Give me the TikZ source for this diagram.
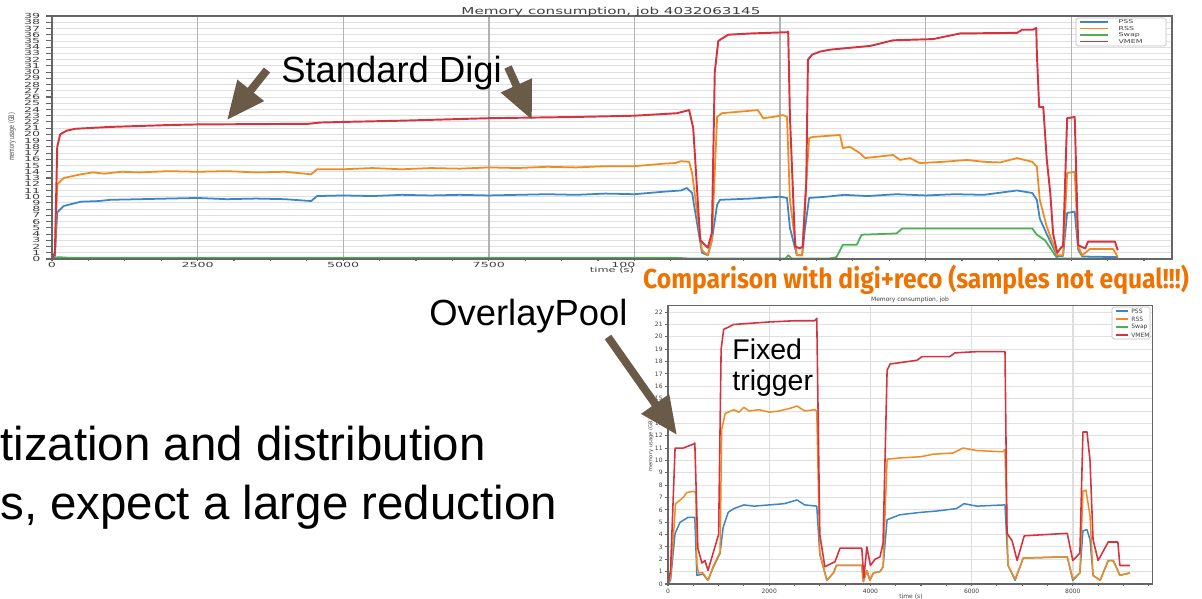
\documentclass[tikz,border=0pt]{standalone}
\usepackage{fontspec}
\setmainfont{Liberation Sans}
\newfontfamily\plotfont{DejaVu Sans}
\newfontfamily\notefont{Fira Sans}
\usetikzlibrary{arrows.meta}
\definecolor{pssblue}{HTML}{3A86C8}
\definecolor{rssorange}{HTML}{F28A1E}
\definecolor{swapgreen}{HTML}{4CAF50}
\definecolor{vmemred}{HTML}{D63340}
\definecolor{pointerbrown}{HTML}{695B47}
\definecolor{noteorange}{HTML}{EF7100}
\tikzset{
	pssline/.style={draw=pssblue, line width=1pt, line join=round},
	rssline/.style={draw=rssorange, line width=1pt, line join=round},
	swapline/.style={draw=swapgreen, line width=1pt, line join=round},
	vmemline/.style={draw=vmemred, line width=1.1pt, line join=round},
	hgrid/.style={draw=black!12, line width=0.5pt},
	vgrid/.style={draw=black!30, line width=0.8pt},
	lightvgrid/.style={draw=black!13, line width=0.8pt},
	axisframe/.style={draw=black!60, line width=0.6pt},
	legendbox/.style={draw=black!25, fill=white, line width=0.4pt, rounded corners=1pt},
	bigtick/.style={font=\plotfont\fontsize{4}{4}\selectfont, xscale=1.8, transform shape, inner sep=0pt, text=black!75},
	smalltick/.style={font=\plotfont\fontsize{3.4}{3.4}\selectfont, inner sep=0pt, text=black!75},
	pointer/.style={draw=pointerbrown, line width=4.5pt, -{Triangle[length=0.76cm, width=0.64cm]}},
	remark/.style={font=\fontsize{20.7}{24}\selectfont, inner sep=0pt},
	slidetext/.style={font=\fontsize{27}{32}\selectfont, inner sep=0pt},
	comparison/.style={font=\notefont\bfseries\fontsize{15.6}{18}\selectfont, text=noteorange, xscale=0.9, transform shape, inner sep=0pt}
}
\begin{document}
\begin{tikzpicture}[x=0.2mm, y=-0.2mm]
	\path[use as bounding box, fill=white] (0,0) rectangle (1202,598);

	\begin{scope}[shift={(52,259)}, x=1.1648cm, y=0.1246cm]
		\foreach \g in {1,...,38}
			\draw[hgrid] (0,\g) -- (19.23,\g);
		\foreach \t in {2.5,5,...,17.5}
			\draw[vgrid] (\t,0) -- (\t,39);
		\foreach \t in {0,0.625,...,19.2}
			\draw[axisframe] (\t,0) -- (\t,-0.35);
		\foreach \g in {0,...,39} {
			\draw[axisframe] (-0.1,\g) -- (0,\g);
			\node[bigtick, anchor=east] (yt\g) at (-0.19,\g) {\g};
		}
		\foreach \t/\lab in {0/0, 2.5/2500, 5/5000, 7.5/7500}
			\node[bigtick, anchor=north] (xt\lab) at (\t,-0.45) {\lab};
		\node[bigtick, anchor=north east] (xtcut) at (10.03,-0.45) {100};

		\draw[swapline] plot coordinates {(0,0) (0.1,0.3) (0.3,0.2) (10.7,0.2) (10.9,0.1) (12.6,0.1) (12.64,0.6) (12.7,0.1) (13.36,0.1) (13.47,0.3) (13.58,2.3) (13.82,2.3) (13.9,3.9) (14.5,4.1) (14.6,4.9) (16.83,4.9) (16.91,3.9) (17.05,3) (17.26,0.1) (18.3,0.1)};
		\draw[pssline] plot coordinates {(0,0) (0.05,0.5) (0.09,7.5) (0.2,8.5) (0.5,9.2) (0.8,9.3) (1,9.5) (1.5,9.6) (2,9.7) (2.5,9.8) (3,9.6) (3.5,9.7) (4,9.6) (4.45,9.3) (4.55,10.1) (5,10.2) (5.5,10.1) (6,10.3) (6.5,10.2) (7,10.3) (7.5,10.2) (8,10.3) (8.5,10.4) (9,10.3) (9.5,10.5) (10,10.4) (10.5,10.8) (10.8,11.0) (10.9,11.4) (10.99,10.6) (11.16,1) (11.26,0.6) (11.33,3) (11.42,8.7) (11.47,9.5) (12,9.7) (12.5,10) (12.62,9.8) (12.67,5) (12.79,0.6) (12.88,0.6) (12.93,5) (13.0,9.8) (13.3,10) (13.6,10.3) (14,10.1) (14.5,10.4) (15,10.2) (15.5,10.4) (16,10.3) (16.57,11) (16.83,10.6) (16.91,9.5) (16.96,6.5) (17.08,4) (17.26,0.5) (17.36,0.5) (17.43,7.4) (17.56,7.6) (17.62,1.5) (17.69,0.4) (18.3,0.3)};
		\draw[rssline] plot coordinates {(0,0) (0.05,1) (0.09,12) (0.2,13) (0.5,13.6) (0.7,13.9) (0.9,13.7) (1.2,14) (1.5,13.9) (2,14.1) (2.5,14) (3,14.1) (3.5,13.9) (4,14) (4.45,13.6) (4.55,14.4) (5,14.4) (5.5,14.6) (6,14.4) (6.5,14.6) (7,14.5) (7.5,14.7) (8,14.6) (8.5,14.8) (9,14.7) (9.5,14.9) (10,14.9) (10.5,15.3) (10.7,15.4) (10.8,15.7) (10.94,15.6) (10.99,13.8) (11.16,1.4) (11.26,0.6) (11.33,3) (11.42,22.8) (11.5,23.4) (12.12,23.9) (12.21,22.6) (12.38,22.8) (12.55,23.1) (12.62,22.8) (12.67,9.5) (12.79,0.6) (12.88,0.6) (12.93,9.5) (13.0,19.4) (13.07,19.6) (13.53,19.9) (13.58,17.8) (13.70,18.0) (13.87,17.0) (13.96,16.2) (14.16,16.4) (14.44,16.7) (14.56,15.9) (14.73,16.2) (14.9,15.4) (15.3,15.6) (15.71,15.9) (16.0,15.6) (16.28,15.5) (16.57,16.2) (16.83,15.6) (16.91,14.8) (16.96,9.5) (17.08,5.2) (17.26,0.6) (17.36,0.6) (17.43,13.8) (17.56,14) (17.62,2) (17.69,0.6) (17.82,1.6) (18.22,1.6) (18.30,0.3)};
		\draw[vmemline] plot coordinates {(0,0) (0.05,1) (0.09,18) (0.14,20) (0.25,20.6) (0.4,20.9) (1,21.2) (2,21.5) (2.5,21.6) (4.4,21.7) (4.6,21.9) (5,22.0) (6,22.2) (7.5,22.6) (9,22.8) (10,23.0) (10.73,23.4) (10.94,23.9) (11.01,21) (11.13,3) (11.26,1.8) (11.33,4.2) (11.38,30) (11.44,35) (11.61,36) (12.0,36.2) (12.62,36.4) (12.64,36.5) (12.67,23) (12.76,2) (12.84,1.7) (12.89,2) (12.95,12) (12.98,32) (13.05,32.8) (13.19,33.3) (13.36,33.6) (13.70,33.9) (14.05,34.2) (14.44,35.1) (15.13,35.3) (15.59,36.2) (16.57,36.3) (16.66,36.8) (16.84,36.8) (16.90,37.1) (16.91,33) (16.95,24.4) (17.02,24.4) (17.08,16) (17.14,10.6) (17.19,4) (17.26,1) (17.34,2) (17.36,2) (17.43,22.6) (17.56,22.8) (17.62,2.2) (17.74,1.7) (17.79,2.8) (18.25,2.8) (18.30,1.4)};

		\draw[axisframe] (0,0) rectangle (19.23,39);
	\end{scope}

	\node[font=\plotfont\fontsize{5.4}{5.4}\selectfont, xscale=1.6, transform shape, text=black!75] (toptitle) at (611,11.5) {Memory consumption, job 4032063145};
	\node[font=\plotfont\fontsize{2.7}{2.7}\selectfont, rotate=90, yscale=1.6, transform shape, text=black!75] (toplabel) at (12,137) {memory usage (GB)};
	\node[bigtick, xscale=0.9] (toptime) at (612,270) {time (s)};
	\draw[legendbox] (1076,18) rectangle (1166,46);
	\foreach \y/\c/\lab in {22/pssblue/PSS, 28.5/rssorange/RSS, 35/swapgreen/Swap, 41.5/vmemred/VMEM} {
		\draw[draw=\c, line width=0.8pt] (1080,\y) -- (1108,\y);
		\node[font=\plotfont\fontsize{3}{3}\selectfont, xscale=1.5, transform shape, inner sep=0pt, anchor=west, text=black!75] (lt\lab) at (1118,\y) {\lab};
	}

	\begin{scope}[shift={(668,584)}, x=1.012cm, y=0.2472cm]
		\foreach \g in {1,...,22}
			\draw[hgrid] (0,\g) -- (9.58,\g);
		\foreach \t in {2,4,6,8}
			\draw[lightvgrid] (\t,0) -- (\t,22.57);
		\foreach \t in {0,0.5,...,9.5}
			\draw[axisframe] (\t,0) -- (\t,-0.2);
		\foreach \g in {0,...,22} {
			\draw[axisframe] (-0.06,\g) -- (0,\g);
			\node[smalltick, anchor=east] (by\g) at (-0.1,\g) {\g};
		}
		\foreach \t/\lab in {0/0, 2/2000, 4/4000, 6/6000, 8/8000}
			\node[smalltick, anchor=north] (bx\lab) at (\t,-0.35) {\lab};

		\draw[pssline, line width=0.85pt] plot coordinates {(0,0) (0.05,0.3) (0.14,4.1) (0.24,5) (0.4,5.4) (0.53,5.4) (0.57,0.7) (0.69,0.8) (0.79,0.3) (0.89,1.3) (1.03,2.5) (1.09,4.6) (1.19,5.8) (1.3,6.1) (1.5,6.4) (1.7,6.3) (2.0,6.4) (2.3,6.5) (2.55,6.8) (2.7,6.4) (2.94,6.3) (3.0,2.4) (3.14,0.3) (3.27,0.9) (3.33,1.5) (3.83,1.5) (3.86,0.2) (3.93,1.1) (3.99,0.3) (4.06,0.9) (4.19,1.0) (4.25,1.4) (4.33,5.2) (4.58,5.6) (5.0,5.8) (5.3,5.9) (5.7,6.1) (5.85,6.5) (6.1,6.3) (6.66,6.4) (6.72,1.5) (6.86,0.3) (7.02,2.1) (7.89,2.2) (8.0,0.3) (8.14,0.9) (8.2,4.3) (8.28,4.4) (8.34,3.6) (8.4,0.7) (8.54,0.3) (8.7,1.9) (8.8,1.9) (8.93,0.7) (9.13,0.9)};
		\draw[rssline, line width=0.85pt] plot coordinates {(0,0) (0.05,0.5) (0.15,6.5) (0.3,7) (0.37,7.4) (0.5,7.5) (0.55,7.4) (0.57,1.7) (0.6,0.9) (0.69,0.9) (0.79,0.3) (0.89,1.4) (1.03,2.6) (1.06,12.5) (1.13,13.8) (1.3,14.1) (1.4,13.9) (1.5,14.3) (1.6,14.0) (1.8,14.1) (2.0,13.9) (2.2,14.0) (2.4,14.2) (2.55,14.4) (2.7,14.0) (2.9,14.1) (2.94,14.0) (3.0,2.5) (3.14,0.3) (3.27,0.9) (3.33,1.5) (3.83,1.5) (3.86,0.2) (3.93,1.1) (3.99,0.3) (4.06,0.9) (4.19,1.0) (4.25,1.4) (4.33,10.1) (4.58,10.2) (5.0,10.3) (5.24,10.5) (5.63,10.6) (5.83,11.0) (6.1,10.8) (6.62,10.7) (6.66,10.9) (6.72,1.5) (6.86,0.4) (7.02,2.1) (7.89,2.2) (8.0,0.4) (8.14,0.9) (8.2,7.5) (8.26,7.6) (8.34,5.5) (8.4,0.7) (8.54,0.3) (8.7,1.9) (8.8,1.9) (8.93,0.7) (9.13,0.9)};
		\draw[swapline, line width=0.85pt] plot coordinates {(0,0) (9.13,0)};
		\draw[vmemline, line width=0.9pt] plot coordinates {(0,0) (0.05,1.1) (0.14,11) (0.3,11) (0.49,11.3) (0.53,11.4) (0.59,2.9) (0.67,1.7) (0.73,1.9) (0.79,1.1) (1.0,4) (1.05,19) (1.1,20.6) (1.3,21) (2.0,21.2) (2.5,21.3) (2.9,21.3) (2.94,21.5) (3.0,4) (3.1,1.4) (3.3,1.8) (3.4,2.9) (3.83,2.9) (3.87,0.5) (3.93,3.0) (4.0,1.5) (4.09,2.0) (4.19,2.2) (4.25,3.3) (4.33,17.3) (4.39,17.8) (4.92,18.1) (5.02,18.4) (5.57,18.4) (5.67,18.7) (6.1,18.8) (6.66,18.8) (6.70,4.1) (6.8,3.5) (6.9,1.9) (7.04,3.9) (7.89,4.1) (8.0,1.9) (8.14,2.5) (8.2,12.3) (8.28,12.3) (8.34,10.0) (8.4,3.6) (8.5,1.9) (8.7,3.4) (8.89,3.4) (8.93,1.5) (9.13,1.5)};

		\draw[axisframe] (0,0) rectangle (9.58,22.57);
	\end{scope}

	\node[smalltick] (bottitle) at (910,300) {Memory consumption, job};
	\node[font=\plotfont\fontsize{3}{3}\selectfont, rotate=90, text=black!75] (botlabel) at (651,445) {memory usage (GB)};
	\node[smalltick] (bottime) at (911,597) {time (s)};
	\draw[legendbox] (1112,307) rectangle (1150,339);
	\foreach \y/\c/\lab in {311/pssblue/PSS, 319/rssorange/RSS, 327/swapgreen/Swap, 335/vmemred/VMEM} {
		\draw[draw=\c, line width=0.8pt] (1116,\y) -- (1128,\y);
		\node[smalltick, anchor=west] (lb\lab) at (1131,\y) {\lab};
	}

	\node[remark, anchor=base west] (stddigi) at (281,82) {Standard Digi};
	\node[remark, anchor=base west] (overlay) at (429,325) {OverlayPool};
	\node[font=\fontsize{16.2}{18}\selectfont, inner sep=0pt, anchor=base west] (fixed) at (732,359) {Fixed};
	\node[font=\fontsize{16.2}{18}\selectfont, inner sep=0pt, anchor=base west] (trig) at (732,390) {trigger};
	\node[comparison, anchor=base] (cmp) at (916,288) {Comparison with digi+reco (samples not equal!!!)};
	\node[slidetext, anchor=base west] (lineA) at (0,460) {tization and distribution};
	\node[slidetext, anchor=base west] (lineB) at (0,519) {s, expect a large reduction};

	\coordinate (tailA) at (267,70);
	\coordinate (tipA) at (227,120);
	\coordinate (tailB) at (508,67);
	\coordinate (tipB) at (532,120);
	\coordinate (tailC) at (608,337);
	\coordinate (tipC) at (677,435);
	\draw[pointer] (tailA) -- (tipA);
	\draw[pointer] (tailB) -- (tipB);
	\draw[pointer] (tailC) -- (tipC);
\end{tikzpicture}
\end{document}
